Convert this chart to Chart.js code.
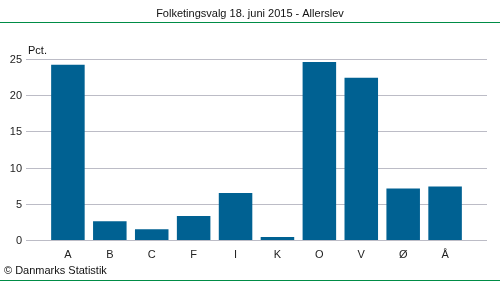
<!DOCTYPE html>
<html>
<head>
<meta charset="utf-8">
<script src="https://cdn.jsdelivr.net/npm/chart.js@4"></script>
<style>
  html, body { margin: 0; padding: 0; background: #fff; }
  #wrap { width: 500px; height: 282px; }
</style>
</head>
<body>
<div id="wrap"><canvas id="chart" width="500" height="282"></canvas></div>
<script>
// Folketingsvalg 2015, Allerslev - stemmer i pct.
const partier = ['A', 'B', 'C', 'F', 'I', 'K', 'O', 'V', 'Ø', 'Å'];
const pct = [24.2, 2.6, 1.5, 3.3, 6.5, 0.4, 24.6, 22.4, 7.1, 7.4];
const yTicks = [0, 5, 10, 15, 20, 25];

const titel = 'Folketingsvalg 18. juni 2015 - Allerslev';
const kilde = '© Danmarks Statistik';
const FONT = '"Liberation Sans", Arial, sans-serif';
const GREEN = '#008c46';

// tekst og grønne linjer rundt om diagrammet
const rammePlugin = {
  id: 'ramme',
  afterDraw(chart) {
    const ctx = chart.ctx;
    const xs = chart.scales.x;
    ctx.save();
    ctx.fillStyle = '#111';
    ctx.font = '11px ' + FONT;
    ctx.textBaseline = 'middle';
    ctx.textAlign = 'center';
    ctx.fillText(titel, 250, 14);
    ctx.textAlign = 'left';
    ctx.fillText('Pct.', xs.left + 2, 51);
    ctx.fillText(kilde, 4, 271);
    ctx.strokeStyle = GREEN;
    ctx.lineWidth = 1;
    ctx.beginPath();
    ctx.moveTo(0, 22.5); ctx.lineTo(500, 22.5);
    ctx.moveTo(0, 280.5); ctx.lineTo(500, 280.5);
    ctx.stroke();
    ctx.restore();
  }
};

// gitterlinjer og aksetekster ud fra bibliotekets skalaer
const akserPlugin = {
  id: 'akser',
  beforeDatasetsDraw(chart) {
    const ctx = chart.ctx;
    const ys = chart.scales.y, xs = chart.scales.x;
    const left = xs.getPixelForValue(xs.min);
    const right = xs.getPixelForValue(xs.max);
    ctx.save();
    ctx.strokeStyle = '#bcbcc6';
    ctx.lineWidth = 1;
    ctx.fillStyle = '#222';
    ctx.font = '11px ' + FONT;
    ctx.textBaseline = 'middle';
    ctx.textAlign = 'right';
    yTicks.forEach(v => {
      const y = Math.round(ys.getPixelForValue(v)) + 0.5;
      ctx.beginPath();
      ctx.moveTo(left, y); ctx.lineTo(right, y);
      ctx.stroke();
      ctx.fillText(String(v), left - 4, y);
    });
    ctx.textAlign = 'center';
    partier.forEach((p, i) => {
      ctx.fillText(p, xs.getPixelForValue(i), 255);
    });
    ctx.restore();
  }
};

new Chart(document.getElementById('chart'), {
  type: 'bar',
  data: {
    datasets: [{
      data: pct.map((v, i) => ({ x: i, y: v })),
      backgroundColor: '#006192',
      categoryPercentage: 1,
      barPercentage: 0.8
    }]
  },
  options: {
    responsive: false,
    animation: false,
    layout: { padding: { top: 59, right: 13, bottom: 42, left: 26 } },
    plugins: {
      legend: { display: false },
      tooltip: { enabled: false }
    },
    scales: {
      x: {
        type: 'linear',
        offset: false,
        min: -1,
        max: partier.length,
        display: false
      },
      y: {
        min: 0,
        max: 25,
        display: false
      }
    }
  },
  plugins: [rammePlugin, akserPlugin]
});
</script>
</body>
</html>
